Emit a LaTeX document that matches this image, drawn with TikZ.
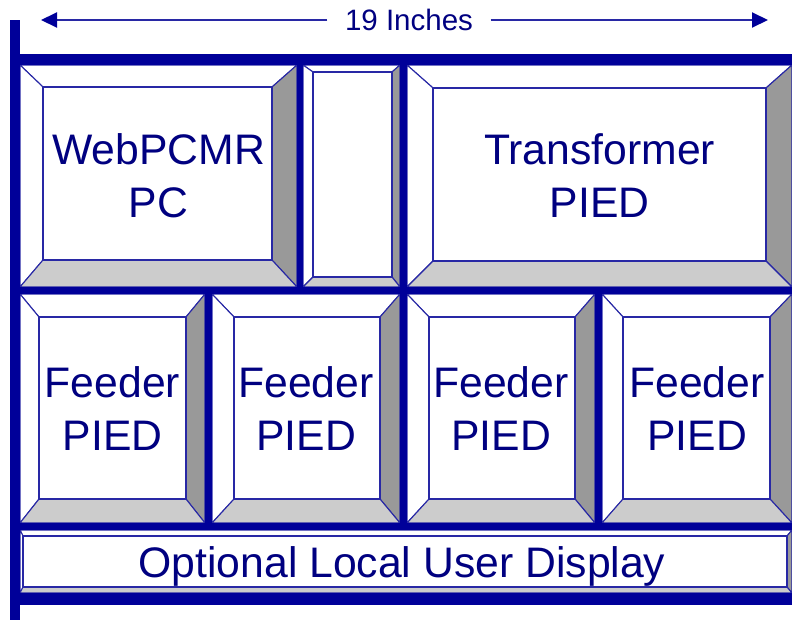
\documentclass[tikz,border=0pt]{standalone}
\usepackage{fontspec}
\setmainfont{Liberation Sans}
\usetikzlibrary{arrows.meta}

\definecolor{framecol}{RGB}{0,0,153}
\definecolor{edgecol}{RGB}{40,40,165}
\definecolor{textcol}{RGB}{0,0,128}
\definecolor{shadedark}{RGB}{153,153,153}
\definecolor{shadelight}{RGB}{204,204,204}

\tikzset{
  bevel/.style={draw=edgecol, line width=1.1pt, line join=miter},
  bar/.style={fill=framecol},
  panellabel/.style={text=textcol, align=center, inner sep=0pt,
    font=\fontsize{42.7}{53}\selectfont},
  dimarrow/.style={draw=edgecol, line width=2pt,
    -{Triangle[length=16pt, width=15pt, color=framecol]}}
}

% outer corners (#1,#2)-(#3,#4), inner corners (#5,#6)-(#7,#8)
\newcommand{\bevelbox}[8]{%
  \filldraw[bevel, fill=white] (#1,#2) -- (#3,#2) -- (#7,#6) -- (#5,#6) -- cycle;
  \filldraw[bevel, fill=white] (#1,#2) -- (#5,#6) -- (#5,#8) -- (#1,#4) -- cycle;
  \filldraw[bevel, fill=shadedark] (#3,#2) -- (#3,#4) -- (#7,#8) -- (#7,#6) -- cycle;
  \filldraw[bevel, fill=shadelight] (#1,#4) -- (#3,#4) -- (#7,#8) -- (#5,#8) -- cycle;
  \filldraw[bevel, fill=white] (#5,#6) rectangle (#7,#8);
}

\begin{document}
\begin{tikzpicture}[x=1pt, y=-1pt]
  \useasboundingbox (0,0) rectangle (792,622);

  % top row
  \bevelbox{20}{65}{297}{287}{43}{87}{272}{260}
  \bevelbox{303}{65}{400}{287}{313}{72}{392}{277}
  \bevelbox{407}{65}{792}{287}{433}{88}{766}{261}
  % feeder row
  \bevelbox{20}{294}{205}{523}{39}{317}{186}{499}
  \bevelbox{212}{294}{400}{523}{234}{317}{380}{499}
  \bevelbox{407}{294}{595}{523}{429}{317}{575}{499}
  \bevelbox{602}{294}{792}{523}{623}{317}{770}{499}
  % display strip
  \bevelbox{20}{530}{792}{593}{23}{536}{787}{587}

  % rack frame
  \fill[bar] (10,20) rectangle (20,620);
  \fill[bar] (10,54) rectangle (792,65);
  \fill[bar] (10,287) rectangle (792,294);
  \fill[bar] (10,523) rectangle (792,530);
  \fill[bar] (10,593) rectangle (792,605);
  \fill[bar] (297,65) rectangle (303,287);
  \fill[bar] (400,65) rectangle (407,287);
  \fill[bar] (205,294) rectangle (212,523);
  \fill[bar] (400,294) rectangle (407,523);
  \fill[bar] (595,294) rectangle (602,523);

  \node[panellabel] (webpc) at (158.5,176) {WebPCMR\\PC};
  \node[panellabel] (xfmr) at (599.5,176) {Transformer\\PIED};
  \node[panellabel] (feedA) at (112.5,409) {Feeder\\PIED};
  \node[panellabel] (feedB) at (306,409) {Feeder\\PIED};
  \node[panellabel] (feedC) at (501,409) {Feeder\\PIED};
  \node[panellabel] (feedD) at (697,409) {Feeder\\PIED};
  \node[panellabel] (disp) at (402,566) {Optional Local User Display};

  % width dimension
  \node[text=textcol, inner xsep=17.5pt, inner ysep=0pt,
    font=\fontsize{29.5}{34}\selectfont] (span) at (409,20) {19 Inches};
  \coordinate (lefttip) at (41,20);
  \coordinate (righttip) at (768,20);
  \draw[dimarrow] (span.west) -- (lefttip);
  \draw[dimarrow] (span.east) -- (righttip);
\end{tikzpicture}
\end{document}
